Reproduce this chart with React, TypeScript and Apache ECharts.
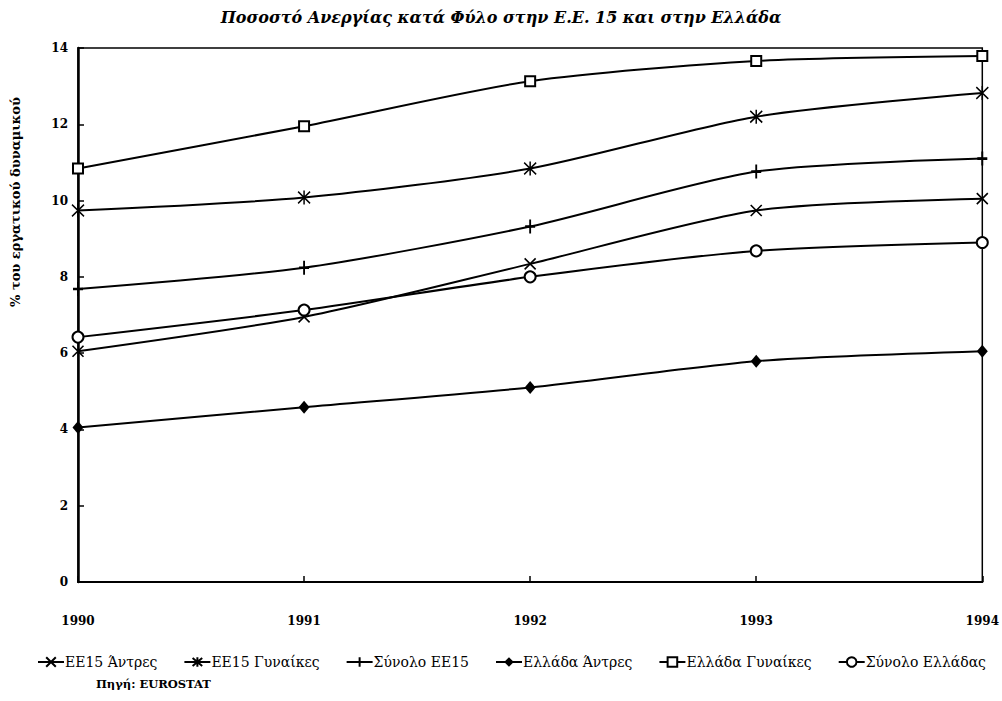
import React, { useEffect, useRef } from "react";
import * as echarts from "echarts";

const years = ["1990", "1991", "1992", "1993", "1994"];
const seriesNames = [
  "ΕΕ15 Άντρες",
  "ΕΕ15 Γυναίκες",
  "Σύνολο ΕΕ15",
  "Ελλάδα Άντρες",
  "Ελλάδα Γυναίκες",
  "Σύνολο Ελλάδας",
];
const ee15Men = [6.05, 6.95, 8.34, 9.74, 10.05];
const ee15Women = [9.74, 10.08, 10.84, 12.2, 12.82];
const ee15Total = [7.68, 8.24, 9.32, 10.76, 11.1];
const greeceMen = [4.05, 4.58, 5.1, 5.79, 6.05];
const greeceWomen = [10.84, 11.95, 13.13, 13.66, 13.79];
const greeceTotal = [6.42, 7.13, 8.0, 8.68, 8.9];
const yTicks = { min: 0, max: 14, interval: 2 };

const titleText = "Ποσοστό Ανεργίας κατά Φύλο στην Ε.Ε. 15 και στην Ελλάδα";
const yAxisTitle = "% του εργατικού δυναμικού";
const sourceText = "Πηγή: EUROSTAT";

const FONT = "DejaVu Serif";

export default function App() {
  const ref = useRef<HTMLDivElement>(null);
  useEffect(() => {
    if (!ref.current) return;
    const chart = echarts.init(ref.current, null, { renderer: "svg" });
    const strokeSym = {
      color: "#000",
      borderColor: "#000",
      borderWidth: 1.6,
    };
    const mk = (name: string, data: number[], symbol: string, size: any, itemStyle: any) => ({
      name,
      type: "line",
      data,
      smooth: 0.25,
      symbol,
      symbolSize: size,
      showSymbol: true,
      lineStyle: { color: "#000", width: 2 },
      itemStyle,
      z: 3,
    });
    const option: any = {
      animation: false,
      backgroundColor: "#fff",
      textStyle: { fontFamily: FONT },
      title: {
        text: titleText,
        left: "center",
        top: 4,
        textStyle: {
          fontFamily: FONT,
          fontStyle: "italic",
          fontWeight: "bold",
          fontSize: 16,
          color: "#000",
        },
      },
      grid: {
        left: 78,
        right: 16,
        top: 48,
        bottom: 119,
        show: true,
        borderColor: "#000",
        borderWidth: 1.5,
        backgroundColor: "transparent",
      },
      xAxis: {
        type: "category",
        data: years,
        boundaryGap: false,
        axisLine: { lineStyle: { color: "#000", width: 2 } },
        axisTick: { inside: true, length: 6, lineStyle: { color: "#000", width: 1.5 } },
        axisLabel: {
          margin: 33,
          fontFamily: FONT,
          fontWeight: "bold",
          fontSize: 12,
          color: "#000",
        },
        splitLine: { show: false },
      },
      yAxis: {
        type: "value",
        min: yTicks.min,
        max: yTicks.max,
        interval: yTicks.interval,
        axisLine: { show: true, lineStyle: { color: "#000", width: 2.5 } },
        axisTick: { show: true, inside: true, length: 6, lineStyle: { color: "#000", width: 1.5 } },
        axisLabel: {
          margin: 10,
          fontFamily: FONT,
          fontWeight: "bold",
          fontSize: 12,
          color: "#000",
        },
        splitLine: { show: false },
      },
      legend: {
        left: 32,
        top: 650,
        itemGap: 26,
        itemWidth: 26,
        itemHeight: 12,
        textStyle: {
          fontFamily: FONT,
          fontSize: 14,
          color: "#000",
          padding: [0, 0, 0, -4],
        },
        data: seriesNames,
      },
      graphic: [
        {
          type: "text",
          x: 9,
          y: 307,
          rotation: Math.PI / 2,
          style: {
            text: yAxisTitle,
            fontFamily: FONT,
            fontWeight: "bold",
            fontSize: 13,
            fill: "#000",
          },
        },
        {
          type: "text",
          x: 96,
          y: 678,
          style: {
            text: sourceText,
            fontFamily: FONT,
            fontWeight: "bold",
            fontSize: 11.5,
            fill: "#000",
          },
        },
      ],
      series: [
        mk(seriesNames[0], ee15Men, "path://M0,0L10,10M10,0L0,10", [11, 11], strokeSym),
        mk(seriesNames[1], ee15Women, "path://M0,1L10,11M10,1L0,11M5,0L5,12", [12, 14], strokeSym),
        mk(seriesNames[2], ee15Total, "path://M5,0L5,14M0,7L10,7", [10, 14], { ...strokeSym, borderWidth: 2.2 }),
        mk(seriesNames[3], greeceMen, "diamond", [11, 13], { color: "#000", borderColor: "#000", borderWidth: 0 }),
        mk(seriesNames[4], greeceWomen, "emptyRect", [10, 10], { color: "#000", borderColor: "#000", borderWidth: 1.6 }),
        mk(seriesNames[5], greeceTotal, "emptyCircle", [11, 11], { color: "#000", borderColor: "#000", borderWidth: 1.6 }),
      ],
    };
    chart.setOption(option);
    return () => chart.dispose();
  }, []);
  return (
    <div
      ref={ref}
      style={{ position: "fixed", left: 0, top: 0, width: 1002, height: 701, background: "#fff" }}
    />
  );
}
